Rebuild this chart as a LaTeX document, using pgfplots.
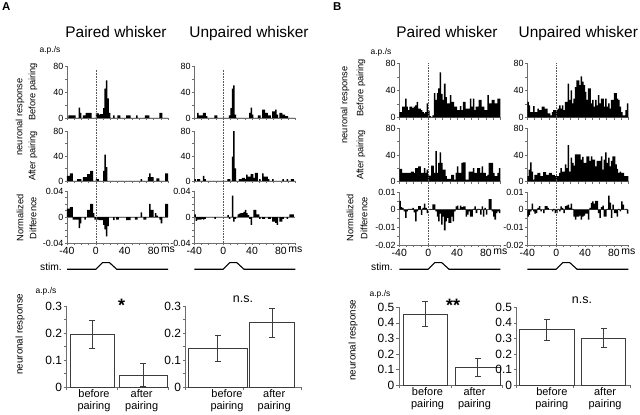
\documentclass[border=0pt]{standalone}
\usepackage{fontspec}
\setmainfont{Liberation Sans}
\usepackage{pgfplots}
\usepackage{pgfplotstable}
\pgfplotsset{compat=1.18}
\definecolor{axgray}{RGB}{110,110,110}
\definecolor{bardraw}{RGB}{60,60,60}
\newcommand\fs[1]{\fontsize{#1}{#1}\selectfont}

\pgfplotstableread{
x ap aa ad up ua ud bp ba bd vp va vd
-39 0 8 0.013 0 3 0.004 8 19 0.005 23 8 -0.004
-37 4 8 0.013 0 0 -0.006 8 19 0.0015 18 18 -0.003
-35 4 12 0.015 8 3 -0.004 16 13 0.001 8 29 -0.001
-33 4 12 0.015 4 3 -0.004 16 13 -0.001 8 15 0.0034
-31 4 0 -0.004 4 0 -0.004 28 13 -0.0047 17 3 -0.001
-29 4 0 -0.004 4 0 -0.003 16 13 -0.001 8 10 -0.0023
-27 0 0 -0.004 8 8 -0.004 11 13 0.0004 8 10 -0.002
-25 0 3 -0.004 8 3 -0.003 16 13 0.0004 13 13 0.001
-23 16 3 -0.017 3 0 0 16 15 0.0004 11 13 0.002
-21 8 3 -0.01 0 0 0 14 15 0.001 11 8 -0.001
-19 0 0 0 0 0 0 16 13 -0.0015 16 8 0
-17 4 6 0 0 0 0 18 20 -0.0066 16 14 -0.002
-15 4 6 -0.004 0 0 0 23 20 -0.001 13 14 0.002
-13 8 6 0 0 0 0 13 23 0.002 13 10 0.002
-11 8 11 0.011 4 0 -0.003 13 23 0.002 6 10 0.001
-9 8 11 0.011 4 0 0 11 13 -0.003 6 13 0
-7 8 16 0.02 0 0 0 8 13 0.001 3 13 0
-5 0 16 0.02 0 0 0 6 20 0.0034 8 10 -0.001
-3 0 0 0.006 0 0 0 8 13 0.001 11 10 0.0004
-1 0 0 -0.004 0 0 0 21 18 -0.002 11 8 -0.002
1 8 3 -0.004 0 0 0 10 9 0 11 8 -0.0019
3 7 3 -0.004 0 0 0 2 9 0.0004 13 8 0.0004
5 5 0 -0.005 0 0 0 0 24 0.0003 18 13 -0.001
7 6 0 -0.005 0 3 0.003 3 24 0.003 13 20 0.0019
9 6 0 -0.005 4 3 -0.003 36 13 0.003 18 15 0.001
11 15 16 -0.012 15 0 0 26 46 -0.001 11 15 -0.0019
13 45 42 -0.019 45 39 0.033 36 13 -0.004 23 26 0.002
15 58 22 -0.03 50 80 -0.007 43 28 -0.0066 23 20 0.0023
17 30 0 -0.014 5 20 -0.003 67 44 -0.0023 50 55 0.0028
19 8 0 0 0 0 0 35 28 -0.0085 26 15 0.001
21 0 0 0 0 0 0.004 26 18 -0.004 40 36 0.0034
23 0 0 0 0 3 0.005 50 18 -0.0117 21 28 0.0004
25 4 0 -0.005 0 3 0.006 30 8 -0.0066 28 24 -0.004
27 0 0 0 0 5 0.006 21 4 -0.0047 45 41 -0.0057
29 0 0 -0.004 0 5 0.008 21 4 -0.0075 55 41 -0.004
31 4 0 -0.004 0 3 0.011 33 4 -0.0075 55 41 -0.004
33 4 0 0 0 10 0.006 23 10 -0.004 48 41 -0.0034
35 0 0 0 0 7 0.003 23 10 -0.0066 61 33 -0.0057
37 0 0 0 8 7 -0.003 16 3 -0.001 53 37 -0.004
39 0 0 0 16 11 -0.012 16 13 0.0019 48 28 -0.0034
41 0 0 0 5 11 0 11 23 0.0023 38 28 -0.0023
43 4 0 -0.005 0 5 0.011 11 13 0.0004 26 38 -0.0023
45 4 0 -0.005 0 13 0.011 17 13 0.0023 43 38 -0.0057
47 4 0 -0.005 0 13 0.004 11 28 0.0015 43 31 0.001
49 0 0 0 4 0 0.004 23 29 0.0019 21 38 0.0038
51 0 0 0 4 3 -0.003 23 29 0.0019 26 33 0.0047
53 0 0 0 0 0 0 13 3 -0.004 16 33 0.0034
55 0 0 -0.004 13 12 -0.003 13 3 -0.0028 26 23 0.005
57 4 0 -0.004 13 7 -0.003 13 15 -0.001 18 31 0.005
59 0 0 0 8 7 0 28 15 -0.004 33 31 -0.0019
61 0 0 0 8 7 0 16 15 -0.004 21 31 -0.0047
63 0 3 0.007 4 3 -0.003 28 20 0.0004 28 38 0.0015
65 0 0 0 4 0 -0.003 11 13 0.0019 28 18 0.0023
67 0 0 -0.004 0 0 0 16 13 -0.0019 16 33 -0.004
69 4 0 -0.004 10 3 -0.007 16 20 0.0004 28 44 -0.004
71 4 0 0 10 0 -0.007 26 20 0.0004 16 28 0.0004
73 4 6 0 13 0 -0.009 26 13 -0.0028 21 36 0.008
75 0 12 0.02 5 0 -0.012 16 23 0.0019 13 23 0.004
77 0 6 0.011 0 0 0 16 13 -0.004 26 31 -0.0047
79 0 6 0.011 8 0 -0.007 11 13 0.001 26 38 0.0028
81 0 0 0 8 0 -0.007 11 8 -0.0028 36 38 -0.0019
83 0 0 0.006 5 3 -0.003 33 10 0 36 26 -0.002
85 0 4 0.002 5 0 0 21 28 0.006 28 19 -0.004
87 0 4 0 3 0 0 21 28 0.006 26 13 0.0004
89 8 0 -0.004 3 3 -0.003 26 28 -0.001 16 15 -0.001
91 8 0 -0.01 0 0 0 26 13 -0.004 8 13 0.0047
93 0 0 0 0 0 0.004 21 8 -0.0057 3 13 0.0028
95 0 0 0 0 3 0.004 21 8 -0.0019 3 8 0
97 0 12 0.02 0 3 0.004 28 13 -0.001 11 8 0.0004
99 0 12 0.02 0 0 0 28 20 -0.0019 21 8 -0.0023
}\hist

\pgfplotsset{
 base/.style={scale only axis, anchor=south west, clip=false,
   axis x line=bottom, axis y line=left,
   axis line style={-, draw=axgray, line width=0.6bp},
   tick style={draw=axgray, line width=0.5bp}, tick align=outside,
   major tick length=2.2bp, minor tick length=2.2bp,
   scaled y ticks=false, scaled x ticks=false,
   ticklabel style={text=black}},
 hist/.style={base, width=101bp, xmin=-40, xmax=100,
   xtick={-40,-30,...,100}, xticklabels={},
   yticklabel style={font=\fs{9}, inner sep=1.2bp}},
 htop/.style={hist, ymin=0, ymax=80, ytick={0,40,80},
   yticklabels={0,40,80}, minor ytick={20,60}},
 hdiff/.style={hist, xticklabels={-40,,,,0,,,,40,,,,80,,ms},
   xticklabel style={font=\fs{10.5}, inner sep=1.5bp}},
 hdiffA/.style={hdiff, ymin=-0.04, ymax=0.04, ytick={-0.04,0,0.04},
   yticklabels={-0.04,0,0.04}, minor ytick={-0.03,-0.02,-0.01,0.01,0.02,0.03}},
 hdiffB/.style={hdiff, ymin=-0.02, ymax=0.01, ytick={-0.02,-0.01,0,0.01},
   yticklabels={-0.02,-0.01,0,0.01}, minor ytick={-0.015,-0.005,0.005}},
 hbar/.style={ybar, bar width=2.1, bar shift=0pt, fill=black, draw=none},
 zline/.style={axgray, line width=0.5bp},
 dotl/.style={hide axis, scale only axis, anchor=south west, width=101bp,
   xmin=-40, xmax=100, ymin=0, ymax=1, clip=false},
 dotline/.style={gray!70!black, line width=0.6bp, dash pattern=on 0.7bp off 0.9bp},
 stimline/.style={black, line width=1.1bp},
 bstyle/.style={base, xmin=0, xmax=2, xtick={0,1,2}, xticklabels={},
   major tick length=3bp, minor tick length=3bp,
   yticklabel style={font=\fs{12}, inner sep=1.5bp},
   extra x tick style={major tick length=0pt,
     xticklabel style={font=\fontsize{11}{12.5}\selectfont, align=center, inner sep=2bp}}},
 bbar/.style={ybar, bar shift=0pt, fill=white, draw=bardraw, line width=0.9bp,
   error bars/y dir=both, error bars/y explicit,
   error bars/error mark=none,
   error bars/error bar style={draw=bardraw, line width=0.9bp}},
 caps/.style={only marks, mark=-, mark size=3bp,
   mark options={draw=bardraw, line width=0.9bp}},
}

\begin{document}
\begin{tikzpicture}
\useasboundingbox (0,0) rectangle (640bp,415bp);

% ---------------- A paired ----------------
\begin{axis}[htop, at={(67bp,297bp)}, height=52bp]
 \addplot[hbar] table[x=x,y=ap]{\hist};
\end{axis}
\begin{axis}[htop, at={(67bp,234bp)}, height=50bp]
 \addplot[hbar] table[x=x,y=aa]{\hist};
\end{axis}
\begin{axis}[hdiffA, at={(67bp,172bp)}, height=52bp]
 \addplot[zline] coordinates {(-40,0) (100,0)};
 \addplot[hbar] table[x=x,y=ad]{\hist};
\end{axis}
\begin{axis}[dotl, at={(67bp,172bp)}, height=173bp]
 \addplot[dotline] coordinates {(0,0) (0,1)};
\end{axis}
\begin{axis}[dotl, at={(67bp,145.7bp)}, height=6.6bp]
 \addplot[stimline] coordinates {(-40,0) (0,0) (9,1) (19,1) (29,0) (100,0)};
\end{axis}

% ---------------- A unpaired ----------------
\begin{axis}[htop, at={(194.3bp,297bp)}, height=52bp]
 \addplot[hbar] table[x=x,y=up]{\hist};
\end{axis}
\begin{axis}[htop, at={(194.3bp,234bp)}, height=50bp]
 \addplot[hbar] table[x=x,y=ua]{\hist};
\end{axis}
\begin{axis}[hdiffA, at={(194.3bp,172bp)}, height=52bp]
 \addplot[zline] coordinates {(-40,0) (100,0)};
 \addplot[hbar] table[x=x,y=ud]{\hist};
\end{axis}
\begin{axis}[dotl, at={(194.3bp,172bp)}, height=173bp]
 \addplot[dotline] coordinates {(0,0) (0,1)};
\end{axis}
\begin{axis}[dotl, at={(194.3bp,145.7bp)}, height=6.6bp]
 \addplot[stimline] coordinates {(-40,0) (0,0) (9,1) (19,1) (29,0) (100,0)};
\end{axis}

% ---------------- B paired ----------------
\begin{axis}[htop, at={(399.3bp,297.5bp)}, height=54bp]
 \addplot[hbar] table[x=x,y=bp]{\hist};
\end{axis}
\begin{axis}[htop, at={(399.3bp,233.5bp)}, height=53bp]
 \addplot[hbar] table[x=x,y=ba]{\hist};
\end{axis}
\begin{axis}[hdiffB, at={(399.3bp,170bp)}, height=53bp]
 \addplot[zline] coordinates {(-40,0) (100,0)};
 \addplot[hbar] table[x=x,y=bd]{\hist};
\end{axis}
\begin{axis}[dotl, at={(399.3bp,170bp)}, height=182bp]
 \addplot[dotline] coordinates {(0,0) (0,1)};
\end{axis}
\begin{axis}[dotl, at={(399.3bp,145.7bp)}, height=6.6bp]
 \addplot[stimline] coordinates {(-40,0) (0,0) (9,1) (19,1) (29,0) (100,0)};
\end{axis}

% ---------------- B unpaired ----------------
\begin{axis}[htop, at={(527.3bp,297.5bp)}, height=54bp]
 \addplot[hbar] table[x=x,y=vp]{\hist};
\end{axis}
\begin{axis}[htop, at={(527.3bp,233.5bp)}, height=53bp]
 \addplot[hbar] table[x=x,y=va]{\hist};
\end{axis}
\begin{axis}[hdiffB, at={(527.3bp,170bp)}, height=53bp]
 \addplot[zline] coordinates {(-40,0) (100,0)};
 \addplot[hbar] table[x=x,y=vd]{\hist};
\end{axis}
\begin{axis}[dotl, at={(527.3bp,170bp)}, height=182bp]
 \addplot[dotline] coordinates {(0,0) (0,1)};
\end{axis}
\begin{axis}[dotl, at={(527.3bp,145.7bp)}, height=6.6bp]
 \addplot[stimline] coordinates {(-40,0) (0,0) (9,1) (19,1) (29,0) (100,0)};
\end{axis}

% ---------------- Bar charts ----------------
\begin{axis}[bstyle, at={(66.7bp,27.7bp)}, width=101.6bp, height=81.3bp,
  ymin=0, ymax=0.3, ytick={0,0.1,0.2,0.3}, yticklabels={0,0.1,0.2,0.3},
  minor ytick={0.05,0.15,0.25},
  extra x ticks={0.537,1.476}, extra x tick labels={{before\\pairing},{after\\pairing}}]
 \addplot[bar width=0.88, bbar] coordinates {(0.505,0.195) +- (0,0.052)};
 \addplot[bar width=0.95, bbar] coordinates {(1.505,0.045) +- (0,0.042)};
 \addplot[caps] coordinates {(0.505,0.247) (0.505,0.143) (1.505,0.087) (1.505,0.003)};
\end{axis}
\begin{axis}[bstyle, at={(185.7bp,27.7bp)}, width=115.3bp, height=81.3bp,
  ymin=0, ymax=0.3, ytick={0,0.1,0.2,0.3}, yticklabels={0,0.1,0.2,0.3},
  minor ytick={0.05,0.15,0.25},
  extra x ticks={0.716,1.535}, extra x tick labels={{before\\pairing},{after\\pairing}}]
 \addplot[bar width=1.02, bbar] coordinates {(0.556,0.145) +- (0,0.048)};
 \addplot[bar width=0.79, bbar] coordinates {(1.5,0.238) +- (0,0.054)};
 \addplot[caps] coordinates {(0.556,0.193) (0.556,0.097) (1.5,0.292) (1.5,0.184)};
\end{axis}
\begin{axis}[bstyle, at={(399bp,30bp)}, width=103.7bp, height=77.7bp,
  ymin=0, ymax=0.5, ytick={0,0.1,0.2,0.3,0.4,0.5}, yticklabels={0,0.1,0.2,0.3,0.4,0.5},
  extra x ticks={0.55,1.456}, extra x tick labels={{before\\pairing},{after\\pairing}}]
 \addplot[bar width=0.856, bbar] coordinates {(0.51,0.457) +- (0,0.082)};
 \addplot[bar width=0.854, bbar] coordinates {(1.52,0.115) +- (0,0.059)};
 \addplot[caps] coordinates {(0.51,0.539) (0.51,0.375) (1.52,0.174) (1.52,0.056)};
\end{axis}
\begin{axis}[bstyle, at={(516.7bp,30bp)}, width=113.3bp, height=77.7bp,
  ymin=0, ymax=0.5, ytick={0,0.1,0.2,0.3,0.4,0.5}, yticklabels={0,0.1,0.2,0.3,0.4,0.5},
  extra x ticks={0.62,1.56}, extra x tick labels={{before\\pairing},{after\\pairing}}]
 \addplot[bar width=0.965, bbar] coordinates {(0.53,0.355) +- (0,0.07)};
 \addplot[bar width=0.777, bbar] coordinates {(1.535,0.302) +- (0,0.063)};
 \addplot[caps] coordinates {(0.53,0.425) (0.53,0.285) (1.535,0.365) (1.535,0.239)};
\end{axis}

% ---------------- Texts ----------------
\node[anchor=base west, font=\bfseries\fs{11.5}, inner sep=0] at (2bp,404.3bp) {A};
\node[anchor=base west, font=\bfseries\fs{11.5}, inner sep=0] at (333bp,404.3bp) {B};
\node[anchor=base, font=\fs{15.5}, inner sep=0] at (116bp,377.5bp) {Paired whisker};
\node[anchor=base, font=\fs{15.5}, inner sep=0] at (249bp,377.5bp) {Unpaired whisker};
\node[anchor=base, font=\fs{15.5}, inner sep=0] at (447bp,377.8bp) {Paired whisker};
\node[anchor=base, font=\fs{15.5}, inner sep=0] at (578.3bp,377.8bp) {Unpaired whisker};

\node[font=\fs{8.5}, inner sep=0] at (50bp,365bp) {a.p./s};
\node[font=\fs{8.5}, inner sep=0] at (381bp,363bp) {a.p./s};
\node[font=\fs{10.3}, inner sep=0] at (51bp,148.5bp) {stim.};
\node[font=\fs{10.3}, inner sep=0] at (382bp,148.5bp) {stim.};

\node[rotate=90, font=\fs{9.3}, inner sep=0] at (20bp,298bp) {neuronal response};
\node[rotate=90, font=\fs{9.3}, inner sep=0] at (33bp,323bp) {Before pairing};
\node[rotate=90, font=\fs{9.3}, inner sep=0] at (33bp,259bp) {After pairing};
\node[rotate=90, font=\fs{9.3}, inner sep=0] at (20bp,197bp) {Normalized};
\node[rotate=90, font=\fs{9.3}, inner sep=0] at (33bp,197bp) {Difference};

\node[rotate=90, font=\fs{9.3}, inner sep=0] at (345bp,310bp) {neuronal response};
\node[rotate=90, font=\fs{9.3}, inner sep=0] at (361bp,327bp) {Before pairing};
\node[rotate=90, font=\fs{9.3}, inner sep=0] at (361bp,260bp) {After pairing};
\node[rotate=90, font=\fs{9.3}, inner sep=0] at (350bp,197bp) {Normalized};
\node[rotate=90, font=\fs{9.3}, inner sep=0] at (364bp,197bp) {Difference};

\node[font=\fs{8.5}, inner sep=0] at (46bp,124bp) {a.p./s};
\node[font=\fs{8.5}, inner sep=0] at (380bp,121bp) {a.p./s};
\node[rotate=90, font=\fs{9.8}, inner sep=0] at (20bp,81bp) {neuronal response};
\node[rotate=90, font=\fs{9.8}, inner sep=0] at (353bp,75bp) {neuronal response};
\node[anchor=north, font=\bfseries\fs{18}, inner sep=0] at (121.7bp,115.7bp) {*};
\node[font=\fs{12.5}, inner sep=0] at (243bp,116bp) {n.s.};
\node[anchor=north, font=\bfseries\fs{18}, inner sep=0] at (453bp,115.7bp) {**};
\node[font=\fs{12.5}, inner sep=0] at (582bp,115bp) {n.s.};
\end{tikzpicture}
\end{document}
